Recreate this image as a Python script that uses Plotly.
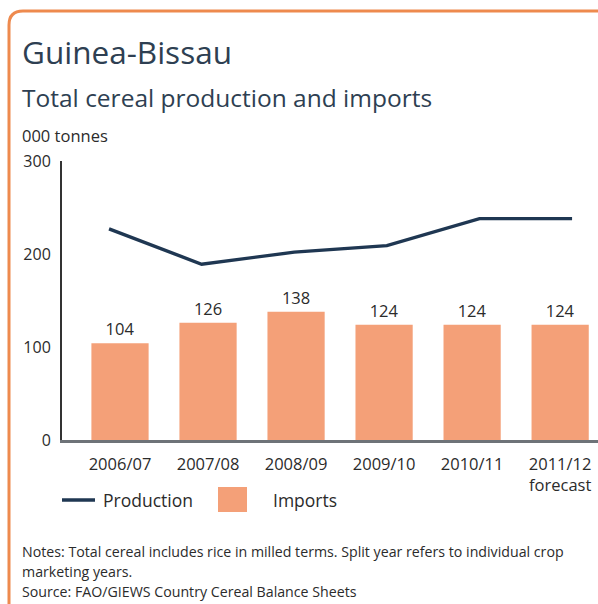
import plotly.graph_objects as go

# Marketing years and cereal balances (000 tonnes)
years = ["2006/07", "2007/08", "2008/09", "2009/10", "2010/11", "2011/12"]
year_labels = ["2006/07", "2007/08", "2008/09", "2009/10", "2010/11", "2011/12<br>forecast"]
production = [227, 189, 202, 209, 238, 238]
imports = [104, 126, 138, 124, 124, 124]
y_ticks = [0, 100, 200, 300]

W, H = 598, 604
L, R, T, B = 62, 0, 161, 164
PW, PH = W - L - R, H - T - B

FONT = "Open Sans"
TXT = "#2b2b2b"
BAR = "#f4a078"
LINE = "#1f3752"
ORANGE = "#ee8a4e"


def px(x):
    return (x - L) / PW


def py(y):
    return (H - B - y) / PH


fig = go.Figure()

fig.add_trace(go.Bar(
    x=years, y=imports, marker=dict(color=BAR, line=dict(width=0)),
    width=0.65, text=[str(v) for v in imports], textposition="outside",
    textfont=dict(family=FONT, size=16.5, color=TXT), cliponaxis=False,
    name="Imports", showlegend=False, xaxis="x", yaxis="y",
))
fig.add_trace(go.Scatter(
    x=years, y=production, mode="lines",
    line=dict(color=LINE, width=3.4), name="Production",
    showlegend=False, xaxis="x2", yaxis="y",
))

annotations = [
    dict(text="Guinea-Bissau", x=px(20), y=py(51), xanchor="left", yanchor="middle",
         font=dict(family=FONT, size=31.5, color="#2e3f52")),
    dict(text="Total cereal production and imports", x=px(20), y=py(97),
         xanchor="left", yanchor="middle", font=dict(family=FONT, size=24.5, color="#2e3f52")),
    dict(text="000 tonnes", x=px(20), y=py(136), xanchor="left", yanchor="middle",
         font=dict(family=FONT, size=16.5, color=TXT)),
    dict(text="Production", x=px(101), y=py(500), xanchor="left", yanchor="middle",
         font=dict(family=FONT, size=17.5, color=TXT)),
    dict(text="Imports", x=px(271), y=py(500), xanchor="left", yanchor="middle",
         font=dict(family=FONT, size=17.5, color=TXT)),
    dict(text="Notes: Total cereal includes rice in milled terms. Split year refers to individual crop",
         x=px(20), y=py(551), xanchor="left", yanchor="middle",
         font=dict(family=FONT, size=14.2, color=TXT)),
    dict(text="marketing years.", x=px(20), y=py(571), xanchor="left", yanchor="middle",
         font=dict(family=FONT, size=14.2, color=TXT)),
    dict(text="Source: FAO/GIEWS Country Cereal Balance Sheets", x=px(20), y=py(591),
         xanchor="left", yanchor="middle", font=dict(family=FONT, size=14.2, color=TXT)),
]
for a in annotations:
    a.update(xref="paper", yref="paper", showarrow=False)

r = 14
border_path = (
    f"M {px(9)},{py(H + 2)} L {px(9)},{py(11 + r)} "
    f"Q {px(9)},{py(11)} {px(9 + r)},{py(11)} L {px(W + 2)},{py(11)}"
)
shapes = [
    dict(type="path", path=border_path, xref="paper", yref="paper",
         line=dict(color=ORANGE, width=3)),
    dict(type="line", x0=px(62), x1=px(95), y0=py(500), y1=py(500), xref="paper", yref="paper",
         line=dict(color=LINE, width=3.4)),
    dict(type="rect", x0=px(218), x1=px(247), y0=py(487), y1=py(512), xref="paper", yref="paper",
         line=dict(width=0), fillcolor=BAR),
]

fig.update_layout(
    width=W, height=H,
    margin=dict(l=L, r=R, t=T, b=B, pad=0),
    paper_bgcolor="white", plot_bgcolor="white",
    font=dict(family=FONT, color=TXT),
    showlegend=False,
    xaxis=dict(
        type="category", categoryorder="array", categoryarray=years,
        range=[-0.659, 5.43], tickvals=years, ticktext=year_labels,
        tickfont=dict(family=FONT, size=16.5, color=TXT),
        showgrid=False, zeroline=False, ticks="", ticklabelstandoff=7,
        showline=True, linecolor="#6e7378", linewidth=2.5,
    ),
    xaxis2=dict(
        type="category", categoryorder="array", categoryarray=years,
        overlaying="x", range=[-0.508, 5.28], visible=False,
    ),
    yaxis=dict(
        range=[0, 300], tickvals=y_ticks, showgrid=False, zeroline=False,
        tickfont=dict(family=FONT, size=16, color=TXT), ticks="",
        showline=True, linecolor="#333333", linewidth=2, ticklabelstandoff=6,
    ),
    annotations=annotations,
    shapes=shapes,
)

fig.write_html("out.html")
